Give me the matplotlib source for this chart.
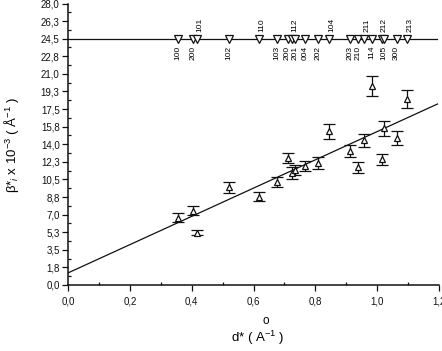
import numpy as np
import matplotlib
matplotlib.use('Agg')
import matplotlib.pyplot as plt
from matplotlib.ticker import FixedLocator, MultipleLocator

plt.rcParams['font.family'] = ['Liberation Sans', 'DejaVu Sans']
plt.rcParams['mathtext.fontset'] = 'custom'
plt.rcParams['mathtext.rm'] = 'Liberation Sans'
plt.rcParams['mathtext.it'] = 'Liberation Sans:italic'

# reflections (hkl) and their positions d* (1/A)
hkl = ['100', '200', '101', '102', '110', '103', '200', '112', '201', '004',
       '202', '104', '203', '210', '211', '114', '212', '105', '300', '213']
d_star = [0.355, 0.405, 0.418, 0.521, 0.617, 0.677, 0.710, 0.724, 0.735, 0.766,
          0.808, 0.845, 0.912, 0.938, 0.958, 0.984, 1.015, 1.021, 1.063, 1.098]
label_top = ['101', '110', '112', '104', '211', '212', '213']

# integral breadth beta* x 10^-3 and error
beta = [6.7, 7.4, 5.2, 9.7, 8.8, 10.2, 12.6, 11.1, 11.4, 11.8,
        12.1, 15.3, 13.3, 11.7, 14.4, 19.8, 12.5, 15.6, 14.6, 18.5]
beta_err = [0.45, 0.45, 0.25, 0.5, 0.45, 0.5, 0.5, 0.6, 0.5, 0.5,
            0.6, 0.75, 0.6, 0.55, 0.65, 1.0, 0.55, 0.75, 0.7, 0.9]

# linear fit (Williamson-Hall) and peak marker level
fit_intercept = 1.2
fit_slope = 14.06
fit_range = [0.0, 1.195]
peak_level = 24.5

yticks = [0, 1.75, 3.5, 5.25, 7.0, 8.75, 10.5, 12.25, 14.0, 15.75,
          17.5, 19.25, 21.0, 22.75, 24.5, 26.25, 28.0]
ytick_labels = ['0,0', '1,8', '3,5', '5,3', '7,0', '8,8', '10,5', '12,3', '14,0',
                '15,8', '17,5', '19,3', '21,0', '22,8', '24,5', '26,3', '28,0']
xticks = [0.0, 0.2, 0.4, 0.6, 0.8, 1.0, 1.2]
xtick_labels = ['0,0', '0,2', '0,4', '0,6', '0,8', '1,0', '1,2']

ink = '#111111'

fig = plt.figure(figsize=(4.42, 3.51), dpi=100)
ax = fig.add_axes([68 / 442, 1 - 285 / 351, 371 / 442, 281.5 / 351])

# fit line
xf = np.array(fit_range)
ax.plot(xf, fit_intercept + fit_slope * xf, color=ink, lw=0.9)

# data with error bars
ax.errorbar(d_star, beta, yerr=beta_err, fmt='^', ms=3.8, mfc='white', mec=ink,
            mew=0.9, ecolor=ink, elinewidth=0.9, capsize=4, capthick=0.9)

# peak positions line and markers
ax.plot(fit_range, [peak_level, peak_level], color=ink, lw=0.9)
ax.plot(d_star, [peak_level] * len(d_star), 'v', ms=5.5, mfc='white', mec=ink, mew=0.9)
for x, lab in zip(d_star, hkl):
    if lab in label_top:
        ax.annotate(lab, (x, peak_level), xytext=(2, 5), textcoords='offset points',
                    rotation=90, ha='center', va='bottom', fontsize=6)
    else:
        ax.annotate(lab, (x, peak_level), xytext=(0, -5), textcoords='offset points',
                    rotation=90, ha='center', va='top', fontsize=6)

ax.set_xlim(0, 1.2)
ax.set_ylim(0, 28)
ax.xaxis.set_major_locator(FixedLocator(xticks))
ax.set_xticklabels(xtick_labels)
ax.xaxis.set_minor_locator(MultipleLocator(0.1))
ax.yaxis.set_major_locator(FixedLocator(yticks))
ax.set_yticklabels(ytick_labels)
ax.yaxis.set_minor_locator(MultipleLocator(0.875))
ax.tick_params(which='major', direction='out', length=4, width=0.9, labelsize=7, pad=2,
               colors=ink)
ax.tick_params(which='minor', direction='in', length=2.5, width=0.9, colors=ink)
ax.tick_params(axis='x', pad=4)

for s in ['top', 'right']:
    ax.spines[s].set_visible(False)
for s in ['left', 'bottom']:
    ax.spines[s].set_linewidth(1.1)
    ax.spines[s].set_color(ink)

fig.text(258 / 442, 1 - 338 / 351, 'd* ( A$^{-1}$ )', ha='center', va='center', fontsize=9.5)
fig.text(266 / 442, 1 - 321 / 351, 'o', ha='center', va='center', fontsize=8.5)
fig.text(12 / 442, 1 - 145 / 351, 'β*$_i$ x 10$^{-3}$ ( Å$^{-1}$ )', rotation=90,
         ha='center', va='center', fontsize=9.5)

fig.savefig('out.png', dpi=100)
